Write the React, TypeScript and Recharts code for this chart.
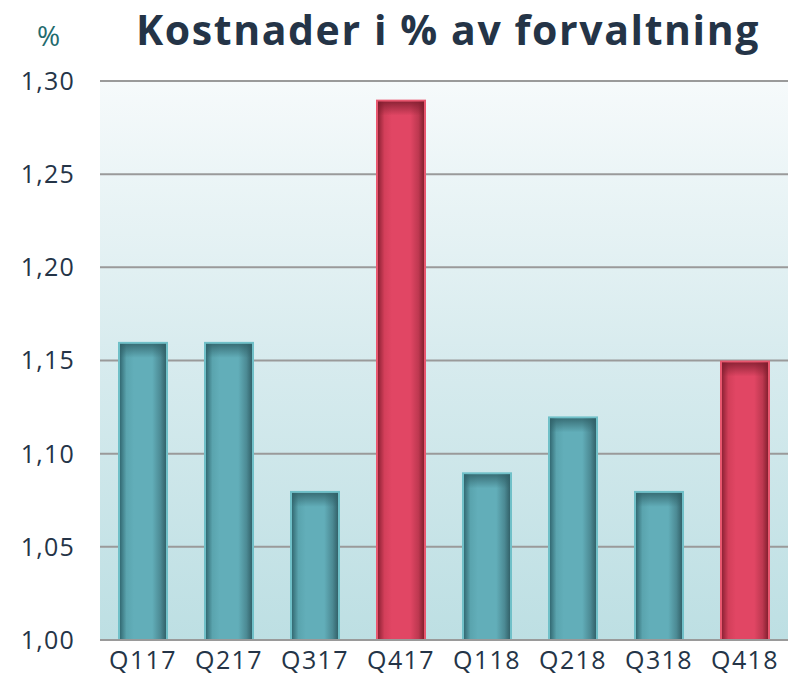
import { BarChart, Bar, XAxis, YAxis, CartesianGrid, Cell } from "recharts";

const quarters = ["Q117", "Q217", "Q317", "Q417", "Q118", "Q218", "Q318", "Q418"];
const costPct = [1.16, 1.16, 1.08, 1.29, 1.09, 1.12, 1.08, 1.15];
const yTicks = [1.0, 1.05, 1.1, 1.15, 1.2, 1.25, 1.3];

const data = quarters.map((q, i) => ({ q, v: costPct[i] }));

const TEXT = "#243447";
const FONT = "'Open Sans', 'DejaVu Sans', sans-serif";

function ShadedBar(props: any) {
  const { x, y, width, height, index } = props;
  const red = quarters[index].startsWith("Q4");
  const id = red ? "red" : "teal";
  const border = red ? "#e8576f" : "#70c0c8";
  return (
    <g>
      <rect x={x} y={y} width={width} height={height} fill={border} />
      <rect x={x + 2} y={y + 2} width={width - 4} height={height - 2} fill={`url(#${id}H)`} />
      <rect x={x + 2} y={y + 2} width={width - 4} height={Math.min(14, height - 2)} fill={`url(#${id}V)`} />
    </g>
  );
}

export default function App() {
  return (
    <div style={{ position: "relative", width: 788, height: 686, background: "#fff" }}>
      <style>{"body{margin:0}"}</style>
      <div
        style={{
          position: "absolute",
          left: 37,
          top: 16,
          fontFamily: FONT,
          fontSize: 28,
          color: "#1f6b6e",
        }}
      >
        %
      </div>
      <div
        style={{
          position: "absolute",
          left: 104,
          width: 688,
          top: 1,
          textAlign: "center",
          fontFamily: FONT,
          fontWeight: 700,
          fontSize: 41,
          letterSpacing: 1.6,
          color: TEXT,
        }}
      >
        Kostnader i % av forvaltning
      </div>
      <BarChart
        width={788}
        height={686}
        data={data}
        margin={{ top: 81, right: 0, left: 0, bottom: 0 }}
        barCategoryGap={18}
      >
        <defs>
          <linearGradient id="bg" x1="0" y1="0" x2="0" y2="1">
            <stop offset="0%" stopColor="#f6fafb" />
            <stop offset="50%" stopColor="#d7ebee" />
            <stop offset="100%" stopColor="#bddfe3" />
          </linearGradient>
          <linearGradient id="tealH" x1="0" y1="0" x2="1" y2="0">
            <stop offset="0%" stopColor="#336a73" />
            <stop offset="14%" stopColor="#5aa4ae" />
            <stop offset="30%" stopColor="#62aeb9" />
            <stop offset="70%" stopColor="#62aeb9" />
            <stop offset="88%" stopColor="#4c8a94" />
            <stop offset="100%" stopColor="#33626a" />
          </linearGradient>
          <linearGradient id="tealV" x1="0" y1="0" x2="0" y2="1">
            <stop offset="0%" stopColor="#2f5f66" stopOpacity={0.8} />
            <stop offset="100%" stopColor="#2f5f66" stopOpacity={0} />
          </linearGradient>
          <linearGradient id="redH" x1="0" y1="0" x2="1" y2="0">
            <stop offset="0%" stopColor="#8f2235" />
            <stop offset="14%" stopColor="#d33f5a" />
            <stop offset="30%" stopColor="#e14664" />
            <stop offset="70%" stopColor="#e14664" />
            <stop offset="88%" stopColor="#bd3850" />
            <stop offset="100%" stopColor="#85202f" />
          </linearGradient>
          <linearGradient id="redV" x1="0" y1="0" x2="0" y2="1">
            <stop offset="0%" stopColor="#7a1c2c" stopOpacity={0.8} />
            <stop offset="100%" stopColor="#7a1c2c" stopOpacity={0} />
          </linearGradient>
        </defs>
        <CartesianGrid
          vertical={false}
          stroke="#9a9a9a"
          strokeWidth={2}
          fill="url(#bg)"
          fillOpacity={1}
        />
        <XAxis
          dataKey="q"
          height={46}
          axisLine={{ stroke: "#9a9a9a", strokeWidth: 2 }}
          tickLine={false}
          tickSize={0}
          tickMargin={11}
          tick={{ fontSize: 25, fill: TEXT, fontFamily: FONT, letterSpacing: 1.4 }}
        />
        <YAxis
          width={100}
          domain={[1, 1.3]}
          ticks={yTicks}
          interval={0}
          axisLine={false}
          tickLine={false}
          tickSize={0}
          tickMargin={25}
          tickFormatter={(v: number) => v.toFixed(2).replace(".", ",")}
          tick={{ fontSize: 25, fill: TEXT, fontFamily: FONT, letterSpacing: 1.2 }}
        />
        <Bar dataKey="v" isAnimationActive={false} shape={ShadedBar}>
          {data.map((d) => (
            <Cell key={d.q} />
          ))}
        </Bar>
      </BarChart>
    </div>
  );
}
